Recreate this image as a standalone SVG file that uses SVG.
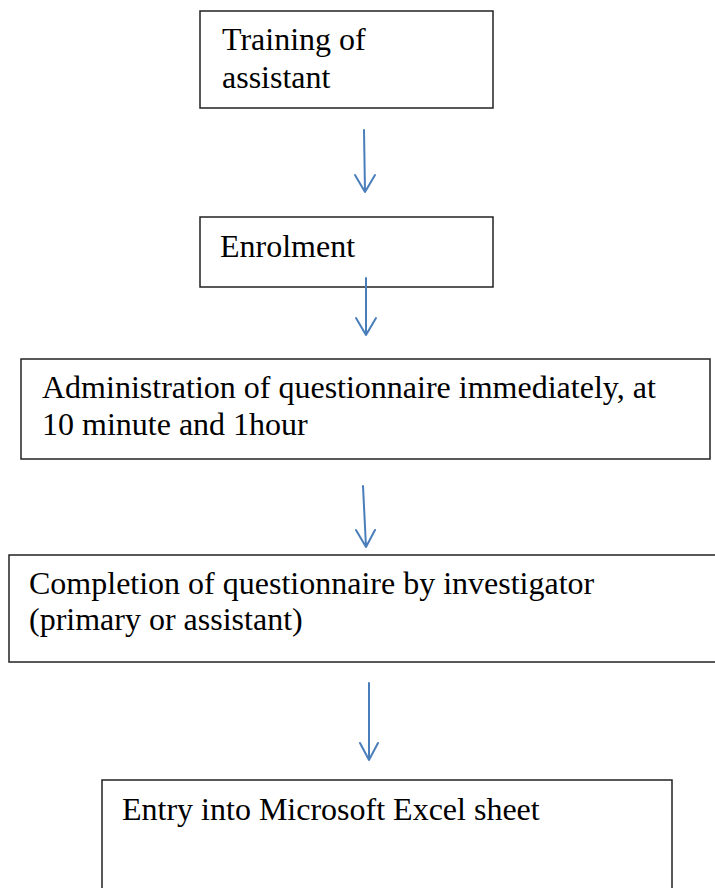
<svg xmlns="http://www.w3.org/2000/svg" width="715" height="888" viewBox="0 0 715 888">
<style>
.box{fill:#fff;stroke:#222;stroke-width:1.5}
.t{font-family:"Liberation Serif","Times New Roman",serif;font-size:32px;fill:#000}
.c{stroke:#4a7ebb;stroke-width:2;fill:none;stroke-linecap:round;stroke-linejoin:round}
</style>
<rect width="715" height="888" fill="#fff"/>
<g id="node-training">
<rect class="box" x="200" y="11" width="293" height="97"/>
<text class="t" x="222" y="50">Training of</text>
<text class="t" x="222" y="88">assistant</text>
</g>
<g id="node-enrolment">
<rect class="box" x="200" y="217" width="293" height="70"/>
<text class="t" x="220" y="257">Enrolment</text>
</g>
<g id="node-administration">
<rect class="box" x="21" y="359" width="689" height="100"/>
<text class="t" x="42" y="398">Administration of questionnaire immediately, at</text>
<text class="t" x="42" y="435">10 minute and 1hour</text>
</g>
<g id="node-completion">
<rect class="box" x="9" y="555" width="720" height="107"/>
<text class="t" x="29" y="594">Completion of questionnaire by investigator</text>
<text class="t" x="29" y="630">(primary or assistant)</text>
</g>
<g id="node-entry">
<rect class="box" x="102" y="780" width="570" height="130"/>
<text class="t" x="122" y="820">Entry into Microsoft Excel sheet</text>
</g>
<g id="connectors">
<path class="c" d="M364 130 L365 192 M355 175 L365 192 L375 175"/>
<path class="c" d="M366 278 L366 335 M356 318 L366 335 L376 318"/>
<path class="c" d="M363 486 L366 547 M356 530 L366 547 L375 530"/>
<path class="c" d="M369 683 L369 760 M360 743 L369 760 L378 743"/>
</g>
</svg>
